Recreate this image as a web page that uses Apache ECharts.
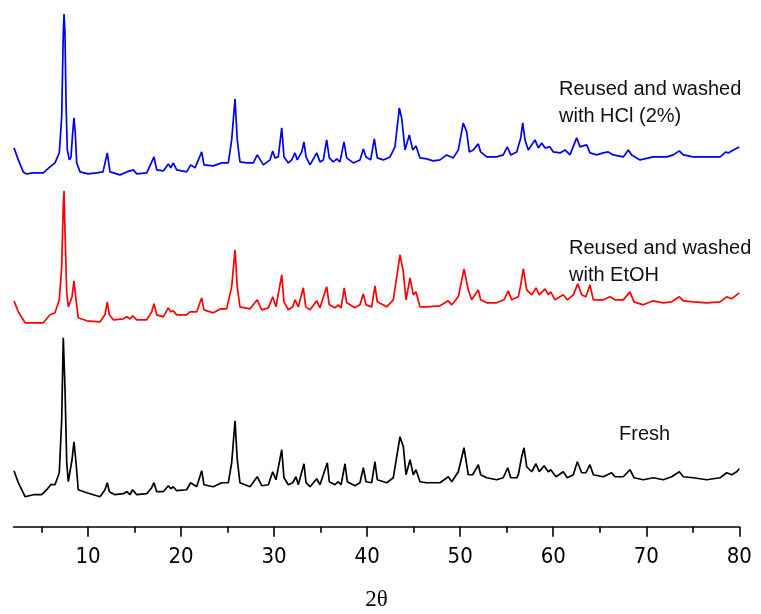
<!DOCTYPE html>
<html><head><meta charset="utf-8">
<script src="https://cdn.jsdelivr.net/npm/echarts@6/dist/echarts.min.js"></script>
<style>html,body{margin:0;padding:0;background:#fff}#c{width:761px;height:614px}</style>
</head><body><div id="c"></div>
<script>
// 2θ tick labels and minor ticks
const majorTicks = [10, 20, 30, 40, 50, 60, 70, 80];
const minorTicks = [5, 15, 25, 35, 45, 55, 65, 75];
const seriesNames = ['Reused and washed with HCl (2%)', 'Reused and washed with EtOH', 'Fresh'];
const annotations = ['Reused and washed\nwith HCl (2%)', 'Reused and washed\nwith EtOH', 'Fresh'];

// [2θ, stacked intensity (a.u.)]
const hclData = [
[2.04,379],[2.51,367],[3.04,355],[3.41,353],[4.12,354],[5.19,354],[5.91,360],[6.45,364],[6.91,374],[7.17,410],[7.34,494],[7.42,513],[7.52,494],[7.63,427],[7.77,377],[7.99,367],[8.17,370],[8.35,394],[8.49,409],[8.63,394],[8.78,364],[9.14,355],[10.0,353],[10.93,354],[11.61,355],[12.07,374],[12.36,355],[13.44,352],[14.16,355],[14.87,357],[15.23,353],[16.31,354],[17.09,370],[17.38,357],[18.09,356],[18.63,363],[18.89,359],[19.16,364],[19.53,357],[20.60,355],[21.03,362],[21.50,359],[22.22,375],[22.46,362],[23.46,361],[24.37,364],[25.08,364],[25.44,387],[25.80,428],[26.04,387],[26.33,365],[27.05,364],[27.76,364],[28.19,372],[28.84,362],[29.56,367],[29.85,376],[30.10,369],[30.45,370],[30.82,399],[31.06,370],[31.53,364],[31.89,367],[32.25,374],[32.49,367],[32.97,375],[33.21,385],[33.43,370],[33.86,362],[34.58,374],[34.93,365],[35.29,367],[35.65,387],[35.93,369],[36.36,365],[36.73,368],[37.08,365],[37.51,385],[37.80,369],[38.51,364],[39.23,367],[39.59,378],[39.88,370],[40.38,367],[40.77,388],[41.09,369],[41.74,367],[42.46,370],[42.99,380],[43.46,419],[43.71,409],[44.07,377],[44.53,392],[44.90,377],[45.25,381],[45.68,369],[46.40,368],[47.10,366],[47.83,367],[48.55,372],[49.26,369],[49.80,377],[50.33,404],[50.70,395],[50.98,375],[51.41,377],[51.95,383],[52.20,375],[52.85,370],[53.92,370],[54.63,372],[55.06,380],[55.43,372],[56.07,375],[56.51,389],[56.72,404],[56.97,387],[57.32,377],[58.04,387],[58.40,379],[58.76,384],[59.12,379],[59.65,380],[60.01,375],[60.73,374],[61.27,377],[61.80,372],[62.52,389],[62.88,380],[63.60,382],[63.95,374],[64.67,372],[65.38,374],[65.92,375],[66.46,372],[67.53,370],[68.07,377],[68.43,372],[69.33,367],[70.76,370],[72.19,370],[72.90,372],[73.55,376],[73.98,372],[75.05,370],[76.50,370],[77.93,370],[78.57,375],[78.82,374],[79.36,377],[80.00,380]
];
const etohData = [
[2.04,226],[2.51,215],[3.23,204],[4.12,204],[5.19,204],[5.91,212],[6.45,214],[6.91,227],[7.17,260],[7.34,322],[7.42,336],[7.52,297],[7.71,234],[7.88,220],[8.06,218],[8.28,230],[8.49,246],[8.71,227],[8.95,209],[9.86,206],[11.29,205],[11.82,212],[12.07,225],[12.29,212],[12.72,207],[13.79,208],[14.16,210],[14.50,208],[14.80,211],[15.23,207],[16.31,207],[16.84,215],[17.09,223],[17.38,212],[18.09,210],[18.63,219],[18.89,215],[19.16,216],[19.53,212],[20.60,212],[20.96,215],[21.68,215],[22.22,229],[22.46,217],[23.46,214],[24.26,218],[24.90,218],[25.44,240],[25.80,277],[26.04,240],[26.33,220],[27.41,218],[28.19,227],[28.67,217],[29.38,219],[29.85,230],[30.20,220],[30.82,252],[31.06,225],[31.53,217],[32.00,220],[32.25,227],[32.60,220],[33.14,239],[33.40,220],[33.86,217],[34.58,226],[34.93,219],[35.65,240],[35.93,222],[36.54,219],[36.90,222],[37.20,219],[37.54,239],[37.80,224],[38.69,219],[39.23,222],[39.59,233],[39.88,222],[40.49,220],[40.84,241],[41.09,225],[42.10,220],[42.81,227],[43.53,272],[43.89,255],[44.18,227],[44.61,249],[44.96,232],[45.25,235],[45.68,220],[46.40,220],[47.83,221],[48.72,226],[49.09,222],[49.80,230],[50.41,258],[50.87,237],[51.24,227],[51.95,237],[52.20,227],[52.85,224],[53.92,224],[54.71,227],[55.17,236],[55.54,227],[56.25,230],[56.51,242],[56.79,258],[57.15,237],[57.69,232],[58.15,239],[58.50,232],[59.12,238],[59.47,232],[59.73,235],[60.19,227],[61.08,232],[61.51,227],[62.16,232],[62.63,243],[63.06,232],[63.52,230],[63.95,242],[64.31,227],[65.38,227],[66.10,230],[66.64,227],[67.53,227],[68.25,235],[68.68,225],[69.68,222],[70.76,226],[71.83,224],[72.73,225],[73.55,230],[73.98,226],[75.05,225],[76.50,224],[77.93,225],[78.65,230],[79.18,228],[79.72,232],[80.00,234]
];
const freshData = [
[2.04,56],[2.51,44],[3.23,30],[4.12,32],[5.02,32],[5.56,37],[5.99,42],[6.45,42],[6.91,54],[7.17,107],[7.34,189],[7.42,190],[7.52,140],[7.71,64],[7.88,45],[8.06,44],[8.28,67],[8.49,85],[8.71,64],[8.95,37],[9.86,34],[11.29,30],[11.82,37],[12.07,44],[12.29,35],[12.90,32],[13.79,33],[14.16,35],[14.50,32],[14.80,37],[15.23,32],[16.31,33],[16.84,39],[17.09,44],[17.38,35],[18.09,35],[18.63,41],[18.89,38],[19.16,40],[19.53,36],[20.60,37],[21.03,44],[21.68,40],[22.22,56],[22.46,42],[23.46,40],[24.37,44],[25.08,44],[25.44,64],[25.80,106],[26.04,67],[26.33,44],[27.41,40],[28.19,50],[28.67,41],[29.38,42],[29.85,55],[30.20,47],[30.82,77],[31.06,49],[31.53,42],[32.00,44],[32.35,50],[32.60,42],[33.21,63],[33.43,44],[33.86,40],[34.58,48],[34.93,42],[35.72,64],[35.93,45],[36.54,42],[36.90,45],[37.20,42],[37.62,63],[37.87,45],[38.69,41],[39.23,44],[39.59,59],[39.88,45],[40.49,44],[40.84,65],[41.09,47],[42.10,44],[42.81,49],[43.53,90],[43.89,80],[44.18,52],[44.61,67],[44.96,52],[45.25,57],[45.68,45],[46.40,44],[47.83,44],[48.72,50],[49.09,45],[49.80,55],[50.41,79],[50.87,52],[51.34,52],[51.95,62],[52.20,52],[52.85,49],[53.92,47],[54.63,49],[55.11,59],[55.43,49],[56.07,49],[56.25,52],[56.61,70],[56.86,79],[57.15,60],[57.69,55],[58.15,63],[58.50,55],[59.01,61],[59.47,55],[59.73,57],[60.30,50],[61.08,55],[61.51,49],[62.16,52],[62.59,65],[63.06,54],[63.52,54],[63.95,62],[64.31,52],[65.38,50],[66.28,54],[66.64,50],[67.53,50],[68.25,57],[68.68,49],[69.68,47],[70.76,49],[71.83,47],[72.73,50],[73.55,55],[73.98,50],[75.05,49],[76.50,47],[77.93,49],[78.65,54],[79.18,52],[79.72,55],[80.00,58]
];

const chart = echarts.init(document.getElementById('c'), null, {renderer: 'canvas'});
const labelFont = "'Liberation Sans Narrow', 'Arial Narrow', 'DejaVu Sans Condensed', 'Liberation Sans', Arial, sans-serif";
const textFont = "'Liberation Sans', Arial, sans-serif";
chart.setOption({
  animation: false,
  backgroundColor: '#ffffff',
  grid: {left: 13.6, right: 21.7, top: 0, bottom: 87.3, containLabel: false, outerBoundsMode: 'none'},
  xAxis: [{
    type: 'value', min: 2, max: 80, position: 'bottom',
    axisLine: {show: true, lineStyle: {color: '#000', width: 1.6}},
    axisTick: {show: true, length: 10, inside: false, lineStyle: {color: '#000', width: 1.6}, customValues: majorTicks},
    axisLabel: {show: true, customValues: majorTicks, color: '#000', fontSize: 22, fontFamily: labelFont, margin: 20},
    splitLine: {show: false},
    name: '2θ', nameLocation: 'middle', nameGap: 62,
    nameTextStyle: {fontFamily: "'Liberation Serif', 'Times New Roman', serif", fontSize: 23, color: '#000'}
  }, {
    type: 'value', min: 2, max: 80, position: 'bottom',
    axisLine: {show: false},
    axisTick: {show: true, length: 6, inside: false, lineStyle: {color: '#000', width: 1.6}, customValues: minorTicks},
    axisLabel: {show: false},
    splitLine: {show: false}
  }],
  yAxis: {type: 'value', min: 0, max: 527, show: false, splitLine: {show: false}},
  series: [
    {name: seriesNames[0], type: 'line', data: hclData, showSymbol: false, symbol: 'none', lineStyle: {color: '#0000ee', width: 1.7}, xAxisIndex: 0},
    {name: seriesNames[1], type: 'line', data: etohData, showSymbol: false, symbol: 'none', lineStyle: {color: '#ff0000', width: 1.7}, xAxisIndex: 0},
    {name: seriesNames[2], type: 'line', data: freshData, showSymbol: false, symbol: 'none', lineStyle: {color: '#000000', width: 1.7}, xAxisIndex: 0}
  ],
  graphic: [
    {type: 'text', left: 559, top: 76, style: {text: annotations[0], font: "20px " + textFont, fill: '#111', lineHeight: 27}},
    {type: 'text', left: 569, top: 235, style: {text: annotations[1], font: "20px " + textFont, fill: '#111', lineHeight: 27}},
    {type: 'text', left: 619, top: 421, style: {text: annotations[2], font: "20px " + textFont, fill: '#111', lineHeight: 27}}
  ]
});
</script></body></html>
